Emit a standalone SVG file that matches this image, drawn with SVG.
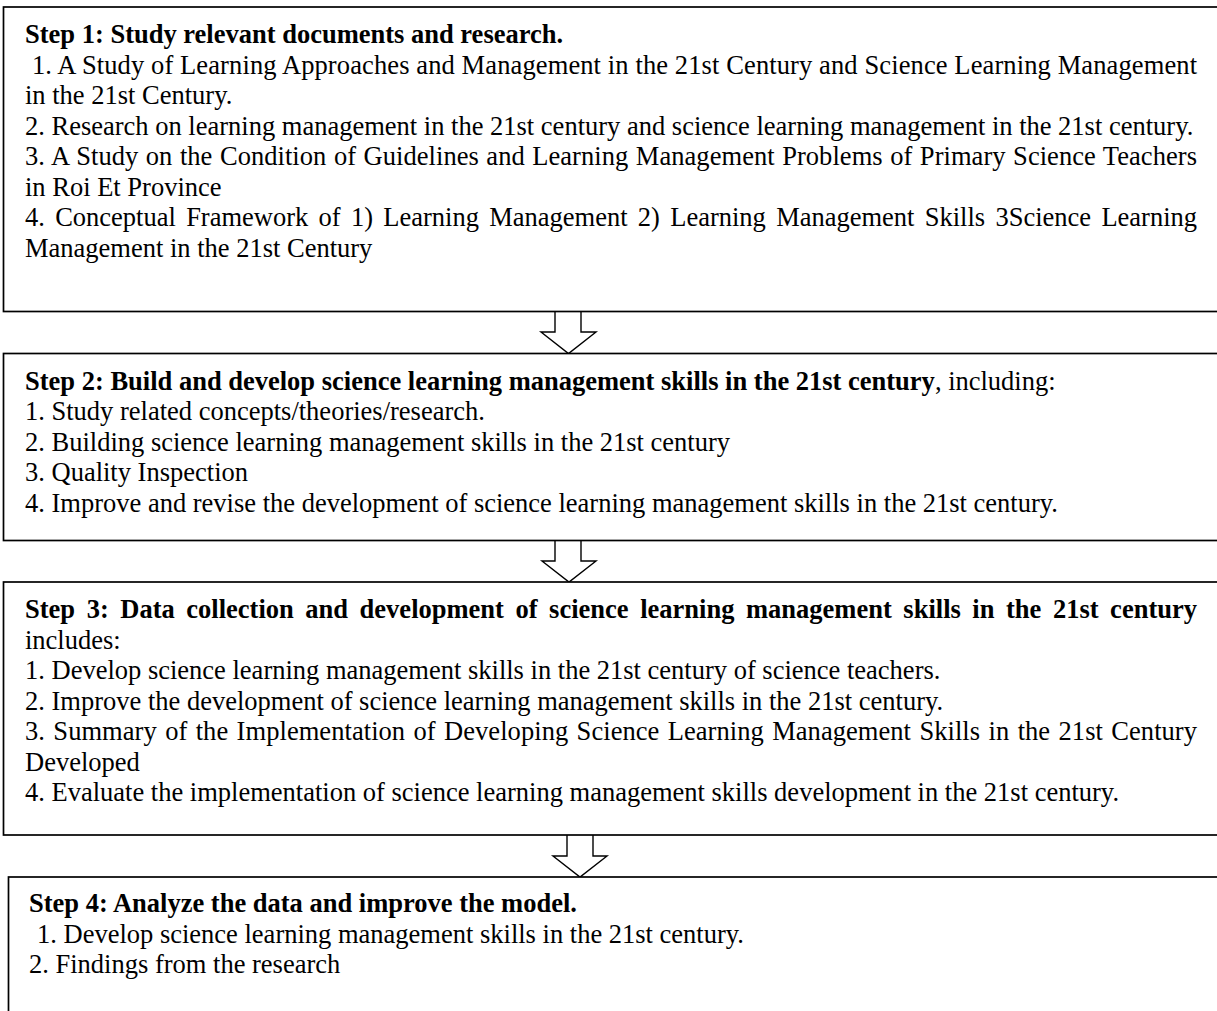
<svg xmlns="http://www.w3.org/2000/svg" width="1217" height="1011" viewBox="0 0 1217 1011">
<style>
.box{fill:#fff;stroke:#000;stroke-width:1.7}
.arr{fill:#fff;stroke:#000;stroke-width:1.4;stroke-linejoin:miter}
text{font-family:"Liberation Serif","Times New Roman",serif;font-size:26.5px;fill:#000}
.b{font-weight:bold}
</style>
<rect width="1217" height="1011" fill="#fff"/>
<g id="connectors">
<path class="arr" d="M555,311 V332 H541 L568.5,353.5 L596,332 H581 V311"/>
<path class="arr" d="M555,540.5 V561 H542 L569,582 L596,561 H581 V540.5"/>
<path class="arr" d="M567,835 V856 H553 L580,877 L607,856 H593 V835"/>
</g>
<g id="step1">
<rect class="box" x="3.5" y="7" width="1230" height="304.5"/>
<text class="b" x="25" y="43">Step 1: Study relevant documents and research.</text>
<text x="32" y="73.5" textLength="1165" lengthAdjust="spacing">1. A Study of Learning Approaches and Management in the 21st Century and Science Learning Management</text>
<text x="25" y="104">in the 21st Century.</text>
<text x="25" y="134.5">2. Research on learning management in the 21st century and science learning management in the 21st century.</text>
<text x="25" y="165" word-spacing="0.8" textLength="1172" lengthAdjust="spacing">3. A Study on the Condition of Guidelines and Learning Management Problems of Primary Science Teachers</text>
<text x="25" y="195.5">in Roi Et Province</text>
<text x="25" y="226" word-spacing="3.7" textLength="1172" lengthAdjust="spacing">4. Conceptual Framework of 1) Learning Management 2) Learning Management Skills 3Science Learning</text>
<text x="25" y="256.5">Management in the 21st Century</text>
</g>
<g id="step2">
<rect class="box" x="3.5" y="353.5" width="1230" height="187"/>
<text x="25" y="389.5"><tspan class="b">Step 2: Build and develop science learning management skills in the 21st century</tspan>, including:</text>
<text x="25" y="420">1. Study related concepts/theories/research.</text>
<text x="25" y="450.5">2. Building science learning management skills in the 21st century</text>
<text x="25" y="481">3. Quality Inspection</text>
<text x="25" y="511.5">4. Improve and revise the development of science learning management skills in the 21st century.</text>
</g>
<g id="step3">
<rect class="box" x="3.5" y="582" width="1230" height="253"/>
<text class="b" x="25" y="618" word-spacing="4.9" textLength="1172" lengthAdjust="spacing">Step 3: Data collection and development of science learning management skills in the 21st century</text>
<text x="25" y="648.5">includes:</text>
<text x="25" y="679">1. Develop science learning management skills in the 21st century of science teachers.</text>
<text x="25" y="709.5">2. Improve the development of science learning management skills in the 21st century.</text>
<text x="25" y="740" word-spacing="1.7" textLength="1172" lengthAdjust="spacing">3. Summary of the Implementation of Developing Science Learning Management Skills in the 21st Century</text>
<text x="25" y="770.5">Developed</text>
<text x="25" y="801">4. Evaluate the implementation of science learning management skills development in the 21st century.</text>
</g>
<g id="step4">
<rect class="box" x="8.5" y="877" width="1230" height="200"/>
<text class="b" x="29" y="912">Step 4: Analyze the data and improve the model.</text>
<text x="37" y="943">1. Develop science learning management skills in the 21st century.</text>
<text x="29" y="973">2. Findings from the research</text>
</g>
</svg>
